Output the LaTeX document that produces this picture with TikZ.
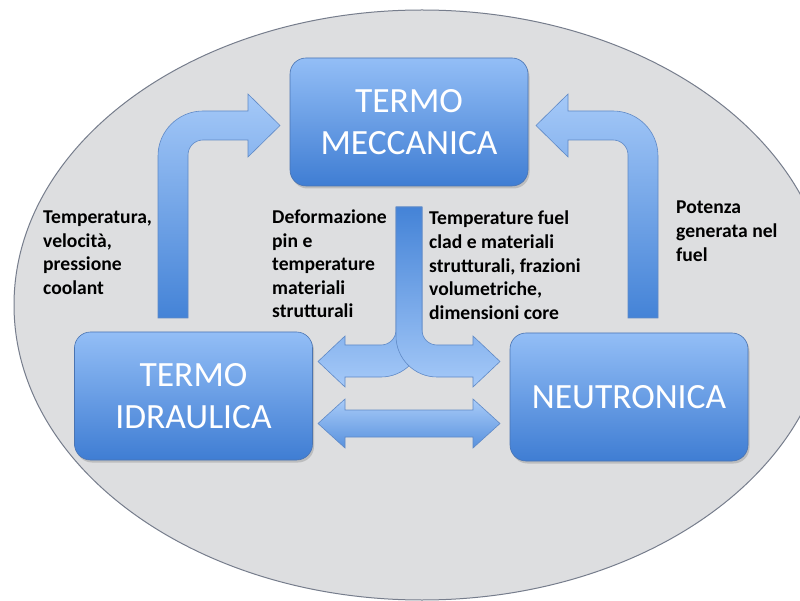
\documentclass[tikz,border=0pt]{standalone}
\usepackage{fontspec}
\setmainfont{Carlito}
\usetikzlibrary{shadows}
\definecolor{bgfill}{HTML}{DDDEE0}
\definecolor{bgline}{HTML}{767D8C}
\definecolor{boxtop}{HTML}{93BEF6}
\definecolor{boxbot}{HTML}{3F7DD3}
\definecolor{boxline}{HTML}{4A74B2}
\definecolor{arrline}{HTML}{5F89C6}
\definecolor{arrlight}{HTML}{A5C9F8}
\definecolor{arrdark}{HTML}{4483D7}
\tikzset{
  box/.style={draw=boxline, line width=0.6pt, rounded corners=16pt,
    top color=boxtop, bottom color=boxbot,
    minimum width=238pt, minimum height=128pt, align=center,
    text=white, font=\fontsize{35.5}{42}\selectfont, inner sep=0pt,
    drop shadow={opacity=0.35, shadow xshift=1.5pt, shadow yshift=-2.5pt}},
  barrow/.style={draw=arrline, line width=0.6pt, top color=arrlight, bottom color=arrdark},
  tarrow/.style={draw=arrline, line width=0.6pt, top color=arrdark, bottom color=arrlight},
  harrow/.style={draw=arrline, line width=0.6pt, top color=arrlight!95!white, bottom color=arrdark!80!arrlight},
  lbl/.style={anchor=north west, inner sep=0pt, align=left,
    font=\bfseries\fontsize{19.6}{23.6}\selectfont, text=black}
}
\begin{document}
\begin{tikzpicture}[x=1pt,y=-1pt]
\useasboundingbox (0,0) rectangle (800,601);
\fill[white] (0,0) rectangle (800,601);
\begin{scope}
\clip (0,0) rectangle (800,601);
\draw[draw=bgline, fill=bgfill, line width=1pt] (422,305) ellipse [x radius=408, y radius=295];
\end{scope}

% boxes
\node[box] (tm) at (409,122) {TERMO\\MECCANICA};
\node[box] (ti) at (193.5,396) {TERMO\\IDRAULICA};
\node[box] (ne) at (629,397) {NEUTRONICA};

% left bent arrow
\path[barrow] (158,318) -- (158,156) .. controls (158,131.2) and (178.2,111) .. (203,111)
  -- (248,111) -- (248,94) -- (280,125.5) -- (248,157) -- (248,140) -- (203,140)
  .. controls (194.7,140) and (188,146.7) .. (188,155) -- (188,318) -- cycle;
% right bent arrow (mirror)
\begin{scope}[xshift=816pt, xscale=-1]
\path[barrow] (158,318) -- (158,156) .. controls (158,131.2) and (178.2,111) .. (203,111)
  -- (248,111) -- (248,94) -- (280,125.5) -- (248,157) -- (248,140) -- (203,140)
  .. controls (194.7,140) and (188,146.7) .. (188,155) -- (188,318) -- cycle;
\end{scope}

% T arrow: left branch
\path[tarrow] (396,207) -- (396,330) .. controls (396,338.3) and (389.3,345) .. (381,345)
  -- (345,345) -- (345,336) -- (318,361.5) -- (345,387) -- (345,377) -- (381,377)
  .. controls (403.6,377) and (422,358.6) .. (422,336) -- (422,207) -- cycle;
% T arrow: right branch (mirror)
\begin{scope}[xshift=818pt, xscale=-1]
\path[tarrow] (396,207) -- (396,330) .. controls (396,338.3) and (389.3,345) .. (381,345)
  -- (345,345) -- (345,336) -- (318,361.5) -- (345,387) -- (345,377) -- (381,377)
  .. controls (403.6,377) and (422,358.6) .. (422,336) -- (422,207) -- cycle;
\end{scope}

% double arrow
\path[harrow] (318,423.5) -- (345,399) -- (345,410) -- (473,410) -- (473,399) -- (500,423.5)
  -- (473,448) -- (473,437) -- (345,437) -- (345,448) -- cycle;

% labels
\node[lbl] (l1) at (43,210.5) {Temperatura,\\velocità,\\pressione\\coolant};
\node[lbl] (l2) at (272,209.5) {Deformazione\\pin e\\temperature\\materiali\\strutturali};
\node[lbl] (l3) at (429,211) {Temperature fuel\\clad e materiali\\strutturali, frazioni\\volumetriche,\\dimensioni core};
\node[lbl] (l4) at (676,201) {Potenza\\generata nel\\fuel};
\end{tikzpicture}
\end{document}
